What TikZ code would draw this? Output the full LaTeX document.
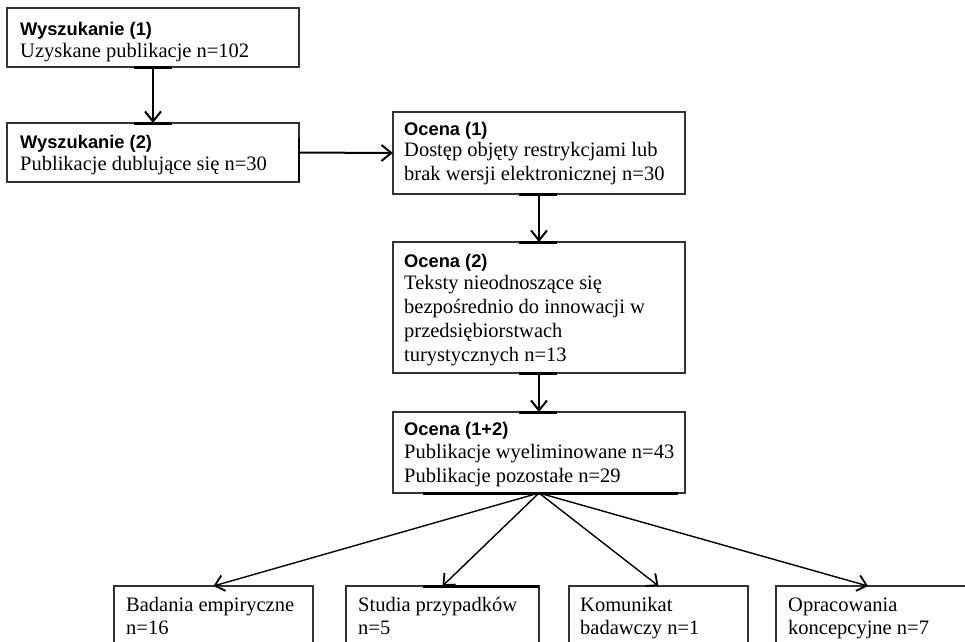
\documentclass[tikz,border=0pt]{standalone}
\usepackage{fontspec}
\setmainfont{Liberation Serif}
\newfontfamily\headfont{Liberation Sans}
\usetikzlibrary{arrows.meta}
\begin{document}
\begin{tikzpicture}[x=1pt,y=-1pt,
  box/.style={draw=black!80, line width=1.1pt, fill=white, inner sep=0pt, outer sep=0pt, anchor=north west},
  head/.style={inner sep=0pt, anchor=base west, font=\headfont\bfseries\fontsize{18.3}{22}\selectfont},
  body/.style={inner sep=0pt, anchor=base west, font=\fontsize{20.5}{24}\selectfont},
  flow/.style={draw=black, line width=2pt, -{Straight Barb[length=10pt,width=16pt,line width=2pt]}},
  fan/.style={draw=black, line width=1.4pt, -{Straight Barb[length=9pt,width=16pt,line width=1.8pt]}},
  grip/.style={draw=black, line width=3pt}]
\clip (0,0) rectangle (965,641);
\useasboundingbox (0,0) rectangle (965,641);
\fill[white] (0,0) rectangle (965,641);

% search stage
\node[box, minimum width=292pt, minimum height=59pt] (s1) at (7,8) {};
\node[head] (s1h) at (20,35) {Wyszukanie (1)};
\node[body] (s1a) at (20,57) {Uzyskane publikacje n=102};

\node[box, minimum width=292pt, minimum height=59pt] (s2) at (7,123) {};
\node[head] (s2h) at (20,148) {Wyszukanie (2)};
\node[body] (s2a) at (20,170) {Publikacje dublujące się n=30};

% assessment stage
\node[box, minimum width=292pt, minimum height=82pt] (e1) at (393,112) {};
\node[head] (e1h) at (404,135) {Ocena (1)};
\node[body] (e1a) at (404,156) {Dostęp objęty restrykcjami lub};
\node[body] (e1b) at (404,180) {brak wersji elektronicznej n=30};

\node[box, minimum width=292pt, minimum height=131pt] (e2) at (393,242) {};
\node[head] (e2h) at (404,267) {Ocena (2)};
\node[body] (e2a) at (404,289) {Teksty nieodnoszące się};
\node[body] (e2b) at (404,313) {bezpośrednio do innowacji w};
\node[body] (e2c) at (404,337) {przedsiębiorstwach};
\node[body] (e2d) at (404,361) {turystycznych n=13};

\node[box, minimum width=292pt, minimum height=81pt] (e3) at (393,412) {};
\node[head] (e3h) at (404,435) {Ocena (1+2)};
\node[body] (e3a) at (404,458) {Publikacje wyeliminowane n=43};
\node[body] (e3b) at (404,482) {Publikacje pozostałe n=29};

% publication types
\node[box, minimum width=199pt, minimum height=80pt] (t1) at (114,586) {};
\node[body] (t1a) at (126,611) {Badania empiryczne};
\node[body] (t1b) at (126,634) {n=16};

\node[box, minimum width=193pt, minimum height=80pt] (t2) at (346,586) {};
\node[body] (t2a) at (358,611) {Studia przypadków};
\node[body] (t2b) at (358,634) {n=5};

\node[box, minimum width=179pt, minimum height=80pt] (t3) at (569,586) {};
\node[body] (t3a) at (580,611) {Komunikat};
\node[body] (t3b) at (580,634) {badawczy n=1};

\node[box, minimum width=210pt, minimum height=80pt] (t4) at (776,586) {};
\node[body] (t4a) at (788,611) {Opracowania};
\node[body] (t4b) at (788,634) {koncepcyjne n=7};
\coordinate (t4in) at (868,586);

% connector grips on the box edges
\draw[grip] ([xshift=-19pt]s1.south) -- ([xshift=19pt]s1.south);
\draw[grip] ([xshift=-19pt]s2.north) -- ([xshift=19pt]s2.north);
\draw[draw=black, line width=2pt] ([yshift=-15pt]s2.north east) -- (s2.south east);
\draw[grip] ([xshift=-20pt]e1.south) -- ([xshift=18pt]e1.south);
\draw[grip] ([xshift=-20pt]e2.north) -- ([xshift=18pt]e2.north);
\draw[grip] ([xshift=-20pt]e2.south) -- ([xshift=18pt]e2.south);
\draw[grip] ([xshift=-20pt]e3.north) -- ([xshift=18pt]e3.north);
\draw[grip] ([xshift=30pt]e3.south west) -- ([xshift=-7pt]e3.south east);
\draw[grip] ([xshift=77pt]t2.north west) -- (t2.north east);

% connectors
\draw[flow] (s1.south) -- (s2.north);
\draw[flow] (s2.east) -- (e1.west);
\draw[flow] (e1.south) -- (e2.north);
\draw[flow] (e2.south) -- (e3.north);
\draw[fan] (e3.south) -- (t1.north);
\draw[fan] (e3.south) -- (t2.north);
\draw[fan] (e3.south) -- (t3.north);
\draw[fan] (e3.south) -- (t4in);
\end{tikzpicture}
\end{document}
